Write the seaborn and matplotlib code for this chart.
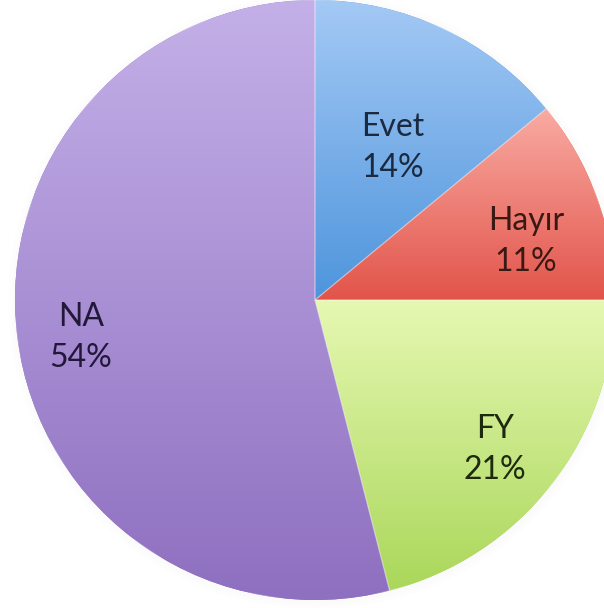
import numpy as np
import matplotlib
matplotlib.use("Agg")
import matplotlib.pyplot as plt
import seaborn as sns
from matplotlib.colors import LinearSegmentedColormap

# ---- data ----
categories = ["Evet", "Hayır", "FY", "NA"]
shares = [14, 11, 21, 54]
pct_labels = ["14%", "11%", "21%", "54%"]

# ---- style ----
top_colors = ["#A4C9F5", "#F9ABA3", "#E6F8B2", "#C4B0E8"]
bottom_colors = ["#4E95DC", "#E2544A", "#AAD75A", "#8E6FC0"]
text_colors = ["#1B2A40", "#3A1814", "#1E2A0E", "#22183A"]
label_radius = [0.57, 0.73, 0.78, 0.79]
label_angle_offset = [1.8, 4.3, 1.8, -2.0]

sns.set_theme(style="white")
plt.rcParams["font.family"] = ["Lato", "DejaVu Sans"]

fig = plt.figure(figsize=(6.04, 6.08), dpi=100)
ax = fig.add_axes([0, 0, 1, 1])
ax.set_aspect("equal")
ax.axis("off")

# very soft shadow
for r, a in [(1.025, 0.025), (1.012, 0.035)]:
    ax.add_patch(plt.Circle((0.003, -0.005), r, color="#C8C8C8", alpha=a, lw=0, zorder=0))

wedges, _ = ax.pie(shares, startangle=90, counterclock=False, radius=1.0,
                   colors=bottom_colors, wedgeprops=dict(linewidth=0))

for w, c0, c1 in zip(wedges, top_colors, bottom_colors):
    w.set_zorder(2)
    verts = w.get_path().vertices
    x0, y0 = verts.min(axis=0)
    x1, y1 = verts.max(axis=0)
    cmap = LinearSegmentedColormap.from_list("g", [c1, c0])
    grad = np.linspace(0, 1, 256).reshape(-1, 1)
    im = ax.imshow(grad, cmap=cmap, origin="lower", aspect="auto",
                   extent=(x0, x1, y0, y1), zorder=3, interpolation="bilinear")
    im.set_clip_path(w)
    ax.add_patch(plt.Polygon(verts, closed=True, fill=False,
                             edgecolor=(1, 1, 1, 0.3), lw=0.8, zorder=4))

ax.set_xlim(-315 / 300, 289 / 300)
ax.set_ylim((300 - 608) / 300, 1.0)

cum = np.cumsum([0] + shares[:-1])
for i, (cat, pct) in enumerate(zip(categories, pct_labels)):
    mid = (cum[i] + shares[i] / 2) / sum(shares) * 360 + label_angle_offset[i]
    th = np.deg2rad(mid)
    x = label_radius[i] * np.sin(th)
    y = label_radius[i] * np.cos(th)
    ax.text(x, y, f"{cat}\n{pct}", ha="center", va="center", fontsize=23,
            color=text_colors[i], linespacing=1.45, zorder=5)

fig.savefig("out.png", dpi=100)
